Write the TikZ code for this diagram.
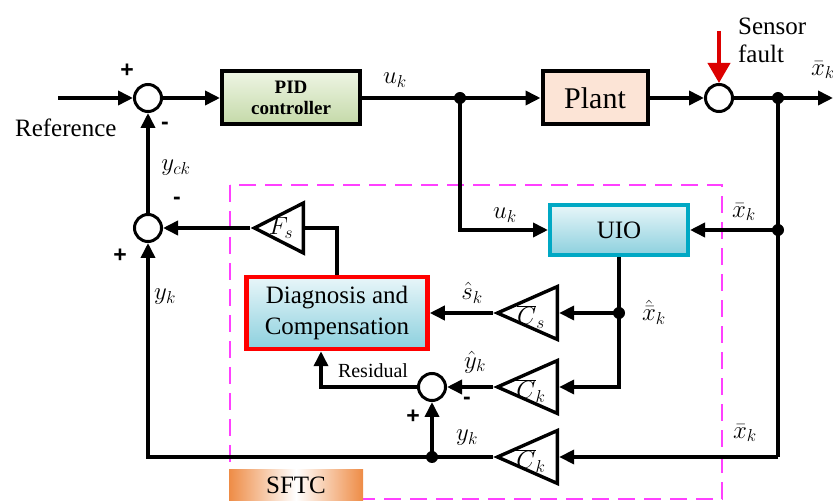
\documentclass[tikz,border=0pt]{standalone}
\usepackage{fontspec}
\setmainfont{Liberation Serif}
\newfontfamily\signfont{Liberation Sans}
\usetikzlibrary{arrows.meta, positioning, calc, shapes.geometric}
\definecolor{PidTop}{RGB}{238,245,228}
\definecolor{PidBot}{RGB}{196,217,168}
\definecolor{PlantFill}{RGB}{252,228,214}
\definecolor{UioEdge}{RGB}{0,168,196}
\definecolor{CyanTop}{RGB}{232,246,249}
\definecolor{CyanBot}{RGB}{140,208,222}
\definecolor{FaultRed}{RGB}{220,0,0}
\definecolor{BoxRed}{RGB}{255,0,0}
\definecolor{DashPink}{RGB}{255,64,255}
\definecolor{SftcOrange}{RGB}{238,140,70}

\tikzset{
  sumnode/.style={circle, draw, line width=3pt, minimum size=27pt, inner sep=0pt, fill=white},
  blk/.style={draw, line width=4pt, inner sep=2pt, align=center},
  gain/.style={draw, isosceles triangle, isosceles triangle stretches, shape border rotate=180,
    line width=3.4pt, inner sep=0pt, fill=white, anchor=apex},
  sgn/.style={font=\signfont\bfseries\fontsize{23}{23}\selectfont},
}

\begin{document}
\begin{tikzpicture}[x=1pt, y=-1pt, line width=3.6pt,
  >={Triangle[length=15pt, width=14pt]}, font=\fontsize{25}{28}\selectfont]

\useasboundingbox (0,0) rectangle (833,502);

% recuadro SFTC
\draw[DashPink, line width=2.6pt, dash pattern=on 17pt off 9pt] (230,185) rectangle (722,499);

% --- lazo principal ---
\coordinate (ref) at (58,98);
\node[sumnode] (s1) at (148,98) {};
\node[blk, top color=PidTop, bottom color=PidBot, minimum width=138pt, minimum height=53pt,
      font=\bfseries\fontsize{19}{21}\selectfont] (pid) at (291,98) {PID\\controller};
\coordinate (ju) at (460,98);
\node[blk, fill=PlantFill, minimum width=105pt, minimum height=53pt,
      font=\fontsize{30}{32}\selectfont] (plant) at (595,98) {Plant};
\node[sumnode] (s2) at (719,98) {};
\coordinate (fault) at (719,31);
\coordinate (jx) at (778,98);
\coordinate (out) at (833,98);

\draw[->] (ref) -- (s1);
\draw[->] (s1) -- (pid);
\draw (pid) -- (ju);
\draw[->] (ju) -- (plant);
\draw[->] (plant) -- (s2);
\draw[-{Triangle[length=20pt, width=22pt]}, FaultRed, line width=4pt] (fault) -- (s2);
\draw (s2) -- (jx);
\draw[->] (jx) -- (out);

% --- observador ---
\node[blk, draw=UioEdge, top color=CyanTop, bottom color=CyanBot, minimum width=138pt,
      minimum height=50pt] (uio) at (619,230) {UIO};
\coordinate (jx2) at (778,230);
\coordinate (jh) at (619,313);
\coordinate (jxb) at (778,457);
\coordinate (jy) at (432,457);

\node[gain, minimum width=53pt, minimum height=60pt] (cs) at (493,313) {};
\node[gain, minimum width=53pt, minimum height=60pt] (ck1) at (493,387) {};
\node[gain, minimum width=53pt, minimum height=60pt] (ck2) at (493,457) {};
\node[gain, minimum width=50pt, minimum height=49pt] (fs) at (250,228) {};
\node at ($(cs.apex)+(38,4)$) {$\overline{C}_s$};
\node at ($(ck1.apex)+(38,4)$) {$\overline{C}_k$};
\node at ($(ck2.apex)+(38,4)$) {$\overline{C}_k$};
\node at ($(fs.apex)+(31,0)$) {$F_s$};

\node[blk, draw=BoxRed, line width=4.5pt, top color=CyanTop, bottom color=CyanBot,
      minimum width=181pt, minimum height=72pt, inner sep=1pt,
      font=\fontsize{25}{31}\selectfont] (dc) at (337,313) {Diagnosis and\\Compensation};
\node[sumnode] (s3) at (432,387) {};
\node[sumnode] (s4) at (148,228) {};

\draw (jx) -- (jx2);
\draw[->] (jx2) -- (uio);
\draw[->] (ju) |- (uio);
\draw (uio) -- (jh);
\draw[->] (jh) -- (cs);
\draw[->] (jh) |- (ck1);
\draw[->] (cs.apex) -- (dc);
\draw[->] (ck1.apex) -- (s3);
\draw[->] (s3) -| ([xshift=-16pt]dc.south);
\draw (jx2) -- (jxb);
\draw[->] (jxb) -- (ck2);
\draw (ck2.apex) -- (jy);
\draw[->] (jy) -- (s3);
\draw[->] (jy) -| (s4);
\draw[->] (s4) -- (s1);
\draw (dc.north) |- (fs);
\draw[->] (fs.apex) -- (s4);

\foreach \p in {ju, jx, jx2, jh, jy}
  \fill (\p) circle (6pt);

% --- etiquetas ---
\node[sgn] at (127,71) {+};
\node[sgn] at (165,126) {-};
\node[anchor=west] at (10,128) {Reference};
\node at (395,80) {$u_k$};
\node[align=left, anchor=west] at (733,40) {Sensor\\fault};
\node at (823,70) {$\bar{x}_k$};
\node at (505,215) {$u_k$};
\node at (744,212) {$\bar{x}_k$};
\node at (654,312) {$\hat{\bar{x}}_k$};
\node at (472,293) {$\hat{s}_k$};
\node at (475,362) {$\hat{y}_k$};
\node[sgn] at (467,401) {-};
\node at (745,433) {$\bar{x}_k$};
\node at (467,438) {$y_k$};
\node[sgn] at (413,417) {+};
\node[font=\fontsize{20}{22}\selectfont] at (373,371) {Residual};
\node at (165,297) {$y_k$};
\node[sgn] at (120,256) {+};
\node[sgn] at (177,201) {-};
\node at (176,168) {$y_{ck}$};

\node[minimum width=134pt, minimum height=31pt, inner sep=0pt, left color=SftcOrange,
      right color=SftcOrange, middle color=white] (sftc) at (296,485) {SFTC};

\end{tikzpicture}
\end{document}
